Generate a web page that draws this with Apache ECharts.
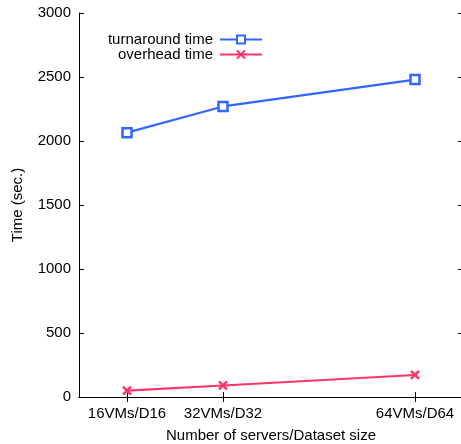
<!DOCTYPE html>
<html>
<head>
<meta charset="utf-8">
<script src="https://cdn.jsdelivr.net/npm/echarts@6/dist/echarts.min.js"></script>
<style>html,body{margin:0;padding:0;background:#fff}#c{width:461px;height:444px}</style>
</head>
<body>
<div id="c"></div>
<script>
// Data
var xValues = [16, 32, 64];
var xLabels = ['16VMs/D16', '32VMs/D32', '64VMs/D64'];
var turnaround = [2065, 2270, 2480];
var overhead = [50, 90, 172];
var yTicks = [0, 500, 1000, 1500, 2000, 2500, 3000];

var FONT = 'Liberation Sans';
var FS = 15;
var blue = '#3366ff';
var pink = '#ff3366';

function pairs(xs, ys) { return xs.map(function (x, i) { return [x, ys[i]]; }); }

var chart = echarts.init(document.getElementById('c'), null, { renderer: 'canvas' });
var axisLineStyle = { color: '#000', width: 1 };
var legendText = { fontFamily: FONT, fontSize: FS, color: '#000', padding: [0, 2, 0, 0] };
var option = {
  animation: false,
  backgroundColor: '#fff',
  textStyle: { fontFamily: FONT },
  grid: { left: 79, top: 13, right: -2, bottom: 47, containLabel: false, outerBoundsMode: 'none' },
  legend: [
    {
      data: ['turnaround time'], right: 198, top: 32, align: 'right',
      itemWidth: 42, itemHeight: 10, itemGap: 10,
      textStyle: legendText, padding: 0
    },
    {
      data: ['overhead time'], right: 198, top: 47, align: 'right',
      itemWidth: 42, itemHeight: 10, itemGap: 10,
      textStyle: legendText, padding: 0
    }
  ],
  xAxis: [
    {
      type: 'value', min: 8, max: 72, position: 'bottom',
      name: 'Number of servers/Dataset size', nameLocation: 'middle', nameGap: 31,
      nameTextStyle: { fontFamily: FONT, fontSize: FS, color: '#000' },
      axisLine: { show: true, lineStyle: axisLineStyle },
      axisTick: { show: true, inside: true, length: 5, customValues: xValues, lineStyle: axisLineStyle },
      axisLabel: {
        customValues: xValues, fontFamily: FONT, fontSize: FS, color: '#000', margin: 9,
        formatter: function (v) { var i = xValues.indexOf(v); return i >= 0 ? xLabels[i] : ''; }
      },
      splitLine: { show: false }
    },
    {
      type: 'value', min: 8, max: 72, position: 'top',
      axisLine: { show: true, lineStyle: axisLineStyle },
      axisTick: { show: true, inside: true, length: 5, customValues: xValues, lineStyle: axisLineStyle },
      axisLabel: { show: false },
      splitLine: { show: false }
    }
  ],
  yAxis: [
    {
      type: 'value', min: 0, max: 3000, interval: 500, position: 'left',
      name: 'Time (sec.)', nameLocation: 'middle', nameGap: 54,
      nameTextStyle: { fontFamily: FONT, fontSize: FS, color: '#000' },
      axisLine: { show: true, lineStyle: axisLineStyle },
      axisTick: { show: true, inside: true, length: 5, lineStyle: axisLineStyle },
      axisLabel: { fontFamily: FONT, fontSize: FS, color: '#000', margin: 8,
        customValues: yTicks, formatter: function (v) { return String(v); } },
      splitLine: { show: false }
    },
    {
      type: 'value', min: 0, max: 3000, interval: 500, position: 'right',
      axisLine: { show: true, lineStyle: axisLineStyle },
      axisTick: { show: true, inside: true, length: 5, lineStyle: axisLineStyle },
      axisLabel: { show: false },
      splitLine: { show: false }
    }
  ],
  series: [
    {
      name: 'turnaround time', type: 'line', xAxisIndex: 0, yAxisIndex: 0,
      data: pairs(xValues, turnaround),
      symbol: 'rect', symbolSize: 9,
      lineStyle: { color: blue, width: 2.2 },
      itemStyle: { color: '#fff', borderColor: blue, borderWidth: 2.5 },
      emphasis: { disabled: true }
    },
    {
      name: 'overhead time', type: 'line', xAxisIndex: 0, yAxisIndex: 0,
      data: pairs(xValues, overhead),
      symbol: 'path://M0,0L10,10M10,0L0,10', symbolSize: 8,
      lineStyle: { color: pink, width: 2.2 },
      itemStyle: { color: pink, borderColor: pink, borderWidth: 2.5 },
      emphasis: { disabled: true }
    }
  ]
};
chart.setOption(option);
</script>
</body>
</html>
